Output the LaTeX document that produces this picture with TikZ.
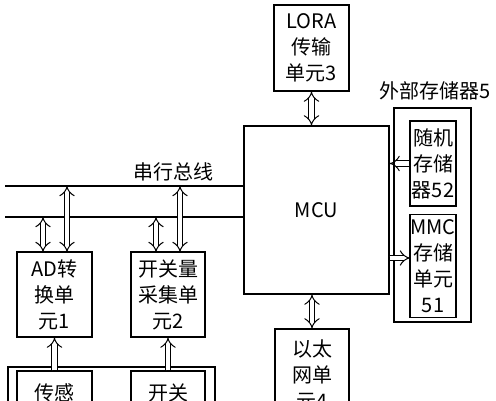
\documentclass[tikz,border=0pt]{standalone}
\usepackage{fontspec}
\setmainfont{Noto Sans CJK SC}
\usetikzlibrary{arrows.meta}
\begin{document}
\begin{tikzpicture}[x=1pt,y=-1pt,
  box/.style={draw, line width=1.1pt, inner sep=0pt, align=center, font=\fontsize{20}{26}\selectfont},
  lbl/.style={inner sep=0pt, font=\fontsize{20}{26}\selectfont},
  dbl/.style={double, double distance=4.4pt, line width=1pt, {Implies[scale=1.2]}-{Implies[scale=1.2]}},
  sgl/.style={double, double distance=4.4pt, line width=1pt, -{Implies[scale=1.2]}},
  bus/.style={line width=1.1pt}]
\useasboundingbox (0,0) rectangle (496,400);
\clip (0,0) rectangle (496,400);
% boxes
\node[box, minimum width=75pt, minimum height=86pt] (lora) at (311.5,48) {LORA\\传输\\单元3};
\node[box, minimum width=145pt, minimum height=168pt] (mcu) at (316.5,210) {MCU};
\node[box, minimum width=77pt, minimum height=214pt] (ext) at (432.5,215) {};
\node[lbl] (extlabel) at (435,91) {外部存储器5};
\node[box, minimum width=46pt, minimum height=85pt] (ram) at (433,163.5) {随机\\存储\\器52};
\node[box, minimum width=46pt, minimum height=103pt] (mmc) at (433,266) {MMC\\存储\\单元\\51};
\node[box, minimum width=74pt, minimum height=92pt] (eth) at (312,375) {以太\\网单\\元4};
\node[box, minimum width=75pt, minimum height=85pt] (ad) at (54.5,294.5) {AD转\\换单\\元1};
\node[box, minimum width=74pt, minimum height=85pt] (sw) at (168,294.5) {开关量\\采集单\\元2};
\node[box, minimum width=207pt, minimum height=70pt] (bottom) at (111.5,402) {};
\node[box, minimum width=75pt, minimum height=44pt] (sensor) at (54.5,393) {传感};
\node[box, minimum width=74pt, minimum height=44pt] (switch) at (168,393) {开关};
% bus
\coordinate (bus1) at (5,186);
\coordinate (bus2) at (5,217);
\draw[bus] (bus1) -- (bus1 -| mcu.west);
\draw[bus] (bus2) -- (bus2 -| mcu.west);
\node[lbl] (buslabel) at (173,172) {串行总线};
% arrows to bus
\coordinate (ad2) at (43,252);
\coordinate (ad1) at (67,252);
\coordinate (sw2) at (156,252);
\coordinate (sw1) at (180,252);
\draw[dbl] (ad2) -- (ad2 |- bus2);
\draw[dbl] (ad1) -- (ad1 |- bus1);
\draw[dbl] (sw2) -- (sw2 |- bus2);
\draw[dbl] (sw1) -- (sw1 |- bus1);
% MCU links
\draw[dbl] (lora.south) -- (lora.south |- mcu.north);
\draw[dbl] (eth.north) -- (eth.north |- mcu.south);
\draw[sgl] (ram.west) -- (ram.west -| mcu.east);
\coordinate (mmcin) at (410,258);
\draw[sgl] (mmcin -| mcu.east) -- (mmcin);
% bottom inputs
\draw[sgl] (sensor.north) -- (sensor.north |- ad.south);
\draw[sgl] (switch.north) -- (switch.north |- sw.south);
\end{tikzpicture}
\end{document}
